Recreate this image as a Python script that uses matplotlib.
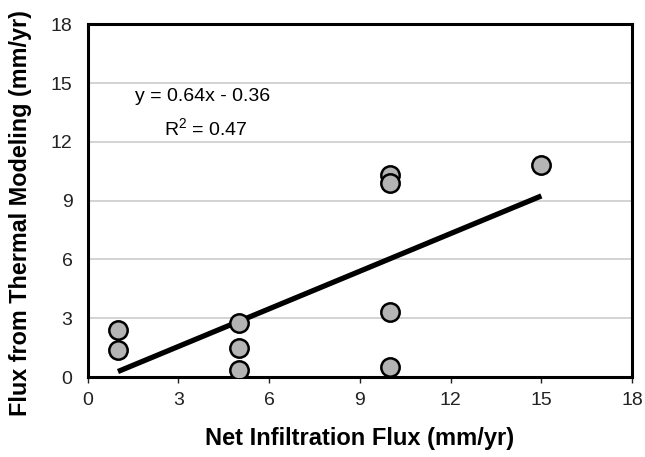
import matplotlib
matplotlib.use("Agg")
import matplotlib.pyplot as plt
import numpy as np

plt.rcParams['font.family'] = ['Liberation Sans', 'DejaVu Sans']

net_flux = [1, 1, 5, 5, 5, 10, 10, 10, 10, 15]
thermal_flux = [2.4, 1.4, 2.75, 1.5, 0.35, 10.3, 9.9, 3.3, 0.5, 10.8]
slope = 0.64
intercept = -0.36
r2 = 0.47
ticks = [0, 3, 6, 9, 12, 15, 18]

fig = plt.figure(figsize=(6.45, 4.57), dpi=100)
ax = fig.add_axes([0.136, 0.175, 0.844, 0.772])

for t in ticks[1:-1]:
    ax.axhline(t, color='#cccccc', lw=1.2, zorder=0)

xl = np.array([min(net_flux), max(net_flux)])
ax.plot(xl, slope * xl + intercept, color='black', lw=3.8, solid_capstyle='butt', zorder=2)
ax.scatter(net_flux, thermal_flux, s=175, facecolor='#b4b4b4', edgecolor='black', linewidth=1.8, zorder=3)

ax.set_xlim(0, 18)
ax.set_ylim(0, 18)
ax.set_xticks(ticks)
ax.set_yticks(ticks)
ax.tick_params(axis='x', direction='out', length=4, width=1, labelsize=14, pad=7, colors='#222222')
ax.tick_params(axis='y', length=0, labelsize=14, pad=11, colors='#222222')
for s in ax.spines.values():
    s.set_linewidth(2.2)
    s.set_color('black')

ax.text(3.8, 14.3, 'y = 0.64x - 0.36', ha='center', va='center', fontsize=14)
ax.text(3.9, 12.7, '$\\mathregular{R^2}$ = 0.47', ha='center', va='center', fontsize=14)

ax.set_xlabel('Net Infiltration Flux (mm/yr)', fontsize=17, fontweight='bold', labelpad=13)
ax.set_ylabel('Flux from Thermal Modeling (mm/yr)', fontsize=16.8, fontweight='bold')
ax.yaxis.set_label_coords(-0.102, 0.465)

fig.savefig('out.png', dpi=100)
